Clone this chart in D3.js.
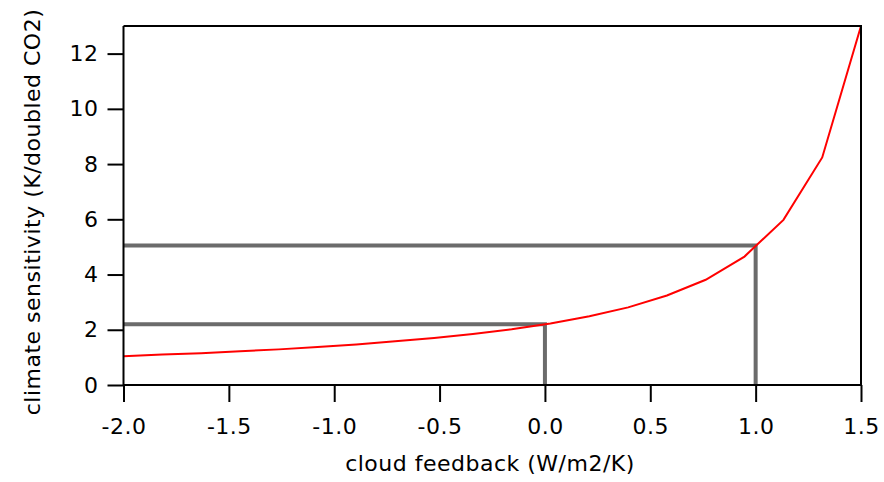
<!DOCTYPE html>
<html><head><meta charset="utf-8">
<script src="https://cdn.jsdelivr.net/npm/d3@7"></script>
<style>body{margin:0;background:#fff}</style>
</head><body>
<svg id="c" width="884" height="482"></svg>
<script>
const cloudFeedback = [-2.0,-1.816,-1.632,-1.447,-1.263,-1.079,-0.895,-0.711,-0.526,-0.342,-0.158,0.026,0.211,0.395,0.579,0.763,0.947,1.132,1.316,1.5];
const sensitivity = [1.04,1.10,1.15,1.22,1.29,1.38,1.47,1.58,1.70,1.85,2.02,2.23,2.49,2.81,3.24,3.81,4.65,5.98,8.24,13.0];
const guideX = [0.0, 1.0];
const guideY = [2.2, 5.05];
const xTicks = [-2.0,-1.5,-1.0,-0.5,0.0,0.5,1.0,1.5];
const yTicks = [0,2,4,6,8,10,12];

const svg = d3.select("#c");
const L=123.5, R=861, T=26, B=385;
const x = d3.scaleLinear().domain([-2,1.5]).range([L,R]);
const y = d3.scaleLinear().domain([0,13]).range([B,T]);
const font = "'DejaVu Sans', Verdana, sans-serif";

// guides
guideX.forEach((gx,i)=>{
  const gy = guideY[i];
  svg.append("path")
    .attr("d", `M${x(-2)},${y(gy)}H${x(gx)}V${y(0)}`)
    .attr("fill","none").attr("stroke","#6b6b6b").attr("stroke-width",4);
});

// curve
svg.append("path").datum(cloudFeedback.map((d,i)=>[d,sensitivity[i]]))
  .attr("d", d3.line().x(d=>x(d[0])).y(d=>y(d[1])))
  .attr("fill","none").attr("stroke","#ff0000").attr("stroke-width",2);

// frame
svg.append("path").attr("d",`M${L},${T}H${R}V${B}`).attr("fill","none").attr("stroke","#000").attr("stroke-width",2);

const xa = svg.append("g").attr("transform",`translate(0,${B})`)
  .call(d3.axisBottom(x).tickValues(xTicks).tickFormat(d=>d.toFixed(1)).tickSize(17).tickPadding(16).tickSizeOuter(0));
const ya = svg.append("g").attr("transform",`translate(${L},0)`)
  .call(d3.axisLeft(y).tickValues(yTicks).tickFormat(d=>String(d)).tickSize(16).tickPadding(9).tickSizeOuter(0));
[xa,ya].forEach(a=>{
  a.select(".domain").attr("stroke","#000").attr("stroke-width",2);
  a.selectAll(".tick line").attr("stroke","#000").attr("stroke-width",2);
  a.selectAll("text").attr("font-family",font).attr("font-size",22).attr("letter-spacing",0.5).attr("fill","#000");
});
xa.select(".domain").attr("d",`M${L},0H${R}`);
ya.select(".domain").attr("d",`M0,${B}V${T}`);

svg.append("text").attr("x",490).attr("y",471).attr("text-anchor","middle")
  .attr("font-family",font).attr("font-size",22).attr("letter-spacing",0.5).text("cloud feedback (W/m2/K)");
svg.append("text").attr("transform",`translate(40,212) rotate(-90)`).attr("text-anchor","middle")
  .attr("font-family",font).attr("font-size",22).attr("letter-spacing",0.5).text("climate sensitivity (K/doubled CO2)");
</script>
</body></html>
